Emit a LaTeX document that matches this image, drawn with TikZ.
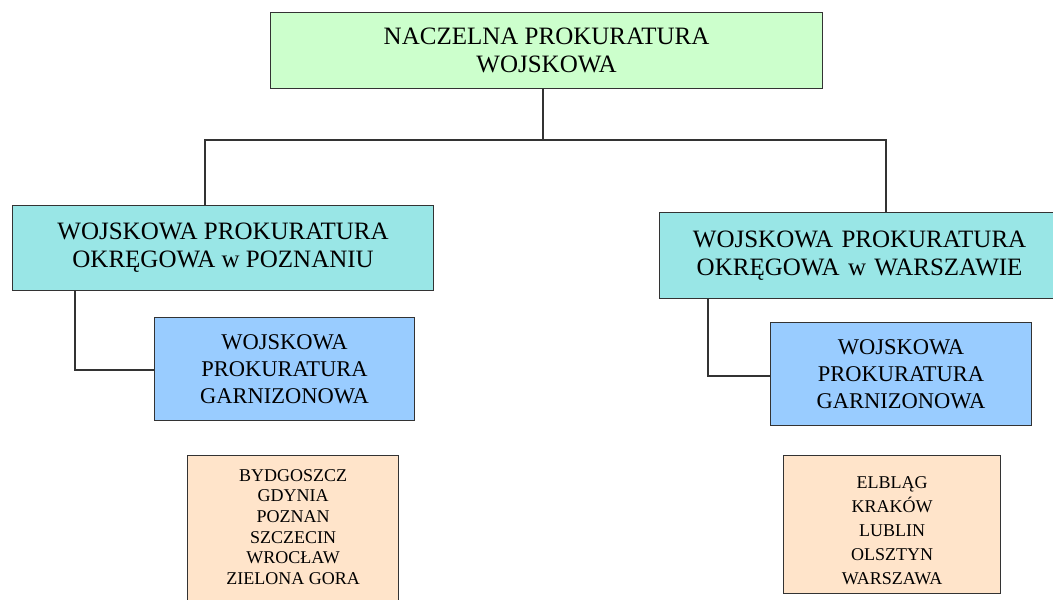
\documentclass[tikz,border=0pt]{standalone}
\usepackage{fontspec}
\setmainfont{Liberation Serif}
\definecolor{cgreen}{HTML}{CCFFCC}
\definecolor{caqua}{HTML}{99E6E6}
\definecolor{cblue}{HTML}{99CCFF}
\definecolor{cpeach}{HTML}{FFE4CA}
\definecolor{cline}{HTML}{333333}
\begin{document}
\begin{tikzpicture}[x=1pt,y=-1pt,
  box/.style={draw=cline, line width=1.2pt, align=center, inner sep=0pt, anchor=north west},
  big/.style={box, font=\fontsize{25}{28}\selectfont},
  mid/.style={box, fill=cblue, font=\fontsize{22.5}{27}\selectfont},
  city/.style={box, fill=cpeach},
  conn/.style={draw=cline, line width=1.2pt}]
\useasboundingbox (0,0) rectangle (1053,600);
\clip (0,0) rectangle (1053,600);
\node[big, fill=cgreen, minimum width=552pt, minimum height=76pt] (top) at (270,12)
  {NACZELNA PROKURATURA\\ WOJSKOWA};
\node[big, fill=caqua, minimum width=421pt, minimum height=85pt] (okrL) at (12,205)
  {WOJSKOWA PROKURATURA\\OKRĘGOWA w POZNANIU};
\node[big, fill=caqua, minimum width=400pt, minimum height=86pt, text width=400pt] (okrR) at (659,212)
  {WOJSKOWA PROKURATURA\\OKRĘGOWA w WARSZAWIE};
\node[mid, minimum width=260pt, minimum height=103pt] (garnL) at (154,317)
  {WOJSKOWA\\PROKURATURA\\GARNIZONOWA};
\node[mid, minimum width=261pt, minimum height=103pt] (garnR) at (770,322)
  {WOJSKOWA\\PROKURATURA\\GARNIZONOWA};
\node[city, font=\fontsize{18}{20.6}\selectfont, minimum width=211pt, minimum height=155pt] (cityL) at (187,455)
  {BYDGOSZCZ\\GDYNIA\\POZNAN\\SZCZECIN\\WROCŁAW\\ZIELONA GORA\\[-8pt]};
\node[city, font=\fontsize{18}{24}\selectfont, minimum width=217pt, minimum height=138pt] (cityR) at (783,455)
  {\\[0pt]ELBLĄG\\KRAKÓW\\LUBLIN\\OLSZTYN\\WARSZAWA};
\coordinate (busL) at (205,140);
\coordinate (busR) at (886,140);
\coordinate (busM) at (543,140);
\draw[conn] (busM |- top.south) -- (busM);
\draw[conn] (busL |- okrL.north) -- (busL) -- (busR) -- (busR |- okrR.north);
\coordinate (cL) at (75,370);
\coordinate (cR) at (708,376);
\draw[conn] (cL |- okrL.south) -- (cL) -- (cL -| garnL.west);
\draw[conn] (cR |- okrR.south) -- (cR) -- (cR -| garnR.west);
\end{tikzpicture}
\end{document}
